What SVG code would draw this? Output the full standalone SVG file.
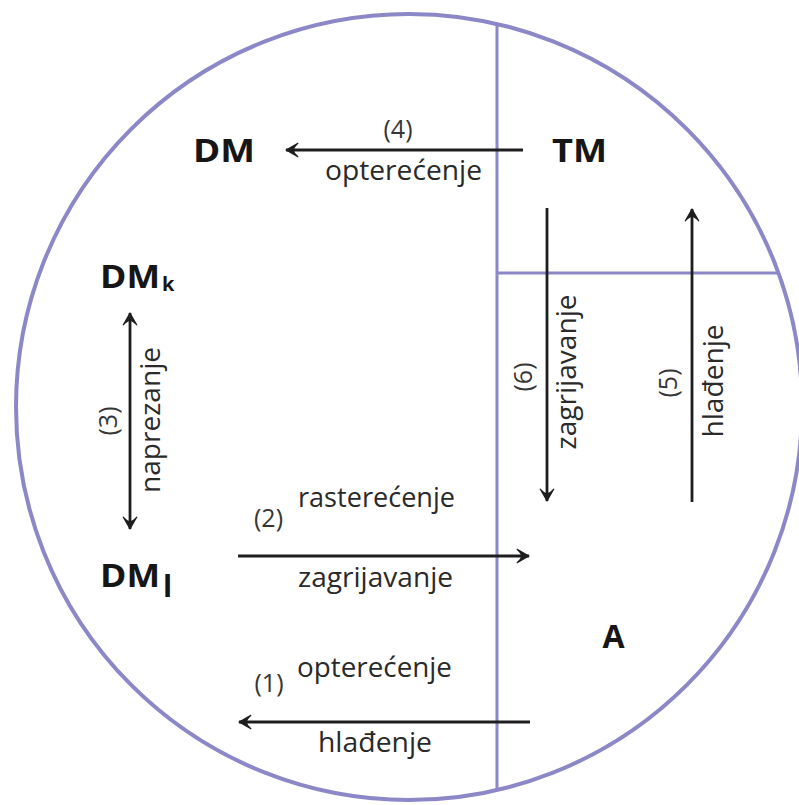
<svg xmlns="http://www.w3.org/2000/svg" width="799" height="805" viewBox="0 0 799 805">
<style>
.frame{fill:none;stroke:#8c88c8;stroke-width:4}
.div{fill:none;stroke:#8c88c8;stroke-width:3}
.arr{fill:none;stroke:#1e1e1e;stroke-width:2.8}
.lbl{font-family:"Open Sans","Liberation Sans",sans-serif;font-size:27.5px;fill:#2a2a2a}
.num{font-family:"Open Sans","Liberation Sans",sans-serif;font-size:25px;fill:#363636}
.node{font-family:"Open Sans","Liberation Sans",sans-serif;font-size:32px;font-weight:bold;fill:#161616}
.sub{font-family:"Open Sans","Liberation Sans",sans-serif;font-weight:bold;fill:#161616}
</style>
<defs>
<marker id="ah" viewBox="-14 -9 16 18" refX="0" refY="0" markerWidth="16" markerHeight="18" markerUnits="userSpaceOnUse" orient="auto-start-reverse">
<path d="M1,0 L-12,-7.5 L-12.5,-6.5 Q-8,-2.5 -8,0 Q-8,2.5 -12.5,6.5 L-12,7.5 Z" fill="#1e1e1e"/>
</marker>
</defs>
<g id="frame">
<circle class="frame" cx="409" cy="407" r="393"/>
<path class="div" d="M497,24 V790"/>
<path class="div" d="M497,273 H778"/>
</g>
<g id="connectors">
<path id="a4" class="arr" d="M523,150 H286" marker-end="url(#ah)"/>
<path id="a3" class="arr" d="M130,313 V529" marker-start="url(#ah)" marker-end="url(#ah)"/>
<path id="a6" class="arr" d="M547,208 V501" marker-end="url(#ah)"/>
<path id="a5" class="arr" d="M692,502 V209" marker-end="url(#ah)"/>
<path id="a2" class="arr" d="M238,556 H529" marker-end="url(#ah)"/>
<path id="a1" class="arr" d="M530,722 H239" marker-end="url(#ah)"/>
<text class="num" x="398" y="138" text-anchor="middle">(4)</text>
<text class="lbl" x="403.5" y="180" text-anchor="middle" textLength="157" lengthAdjust="spacingAndGlyphs">opterećenje</text>
<text class="num" transform="translate(117,421) rotate(-90)" text-anchor="middle">(3)</text>
<text class="lbl" transform="translate(160,420) rotate(-90)" text-anchor="middle" textLength="146" lengthAdjust="spacingAndGlyphs">naprezanje</text>
<text class="num" transform="translate(532,377) rotate(-90)" text-anchor="middle">(6)</text>
<text class="lbl" transform="translate(576,372) rotate(-90)" text-anchor="middle" textLength="155" lengthAdjust="spacingAndGlyphs">zagrijavanje</text>
<text class="num" transform="translate(677,383) rotate(-90)" text-anchor="middle">(5)</text>
<text class="lbl" transform="translate(723,381) rotate(-90)" text-anchor="middle" textLength="113" lengthAdjust="spacingAndGlyphs">hlađenje</text>
<text class="num" x="268.5" y="527" text-anchor="middle">(2)</text>
<text class="lbl" x="376.5" y="507" text-anchor="middle" textLength="157" lengthAdjust="spacingAndGlyphs">rasterećenje</text>
<text class="lbl" x="375.5" y="587" text-anchor="middle" textLength="155" lengthAdjust="spacingAndGlyphs">zagrijavanje</text>
<text class="num" x="269" y="692" text-anchor="middle">(1)</text>
<text class="lbl" x="374.5" y="677" text-anchor="middle" textLength="155" lengthAdjust="spacingAndGlyphs">opterećenje</text>
<text class="lbl" x="375" y="752" text-anchor="middle" textLength="114" lengthAdjust="spacingAndGlyphs">hlađenje</text>
</g>
<g id="DM"><text class="node" x="193" y="162" textLength="62" lengthAdjust="spacingAndGlyphs">DM</text></g>
<g id="TM"><text class="node" x="552" y="162" textLength="55" lengthAdjust="spacingAndGlyphs">TM</text></g>
<g id="DMk"><text class="node" x="100" y="288" textLength="60" lengthAdjust="spacingAndGlyphs">DM</text><text class="sub" x="162" y="291" font-size="20">k</text></g>
<g id="DMl"><text class="node" x="100" y="587" textLength="60" lengthAdjust="spacingAndGlyphs">DM</text><text class="sub" x="163" y="597" font-size="30">l</text></g>
<g id="A"><text class="node" x="613.5" y="648" text-anchor="middle">A</text></g>
</svg>
